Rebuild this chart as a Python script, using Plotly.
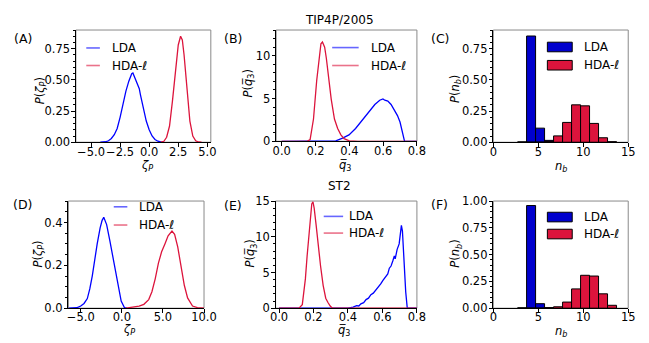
import plotly.graph_objects as go

# ---------------- data ----------------
# (A) TIP4P/2005, distribution of zeta_P
zeta_a_lda_x = [-4.2, -4.0, -3.75, -3.5, -3.25, -3.0, -2.75, -2.5, -2.25, -2.0, -1.75, -1.5, -1.4,
                -1.25, -1.0, -0.85, -0.75, -0.5, -0.25, 0.0, 0.25, 0.5, 0.75, 1.0, 1.25]
zeta_a_lda_y = [0.0, 0.001, 0.004, 0.012, 0.03, 0.06, 0.11, 0.20, 0.31, 0.41, 0.49, 0.55, 0.556,
                0.525, 0.47, 0.43, 0.38, 0.27, 0.17, 0.10, 0.05, 0.022, 0.008, 0.002, 0.0]
zeta_a_hda_x = [1.0, 1.25, 1.5, 1.75, 2.0, 2.25, 2.5, 2.7, 2.85, 3.0, 3.25, 3.5, 3.75, 4.0, 4.25, 4.5]
zeta_a_hda_y = [0.0, 0.006, 0.04, 0.13, 0.33, 0.58, 0.78, 0.85, 0.82, 0.70, 0.42, 0.17, 0.05, 0.012, 0.002, 0.0]

# (B) TIP4P/2005, distribution of q3
q3_b_lda_x = [0.0, 0.30, 0.32, 0.36, 0.398, 0.437, 0.475, 0.513, 0.551, 0.58, 0.599, 0.61, 0.628,
              0.647, 0.666, 0.685, 0.70, 0.71, 0.72, 0.727, 0.8]
q3_b_lda_y = [0.0, 0.0, 0.05, 0.37, 0.75, 1.5, 2.4, 3.4, 4.3, 4.8, 4.94, 4.8, 4.7,
              4.3, 3.7, 3.0, 2.25, 1.3, 0.56, 0.0, 0.0]
q3_b_hda_x = [0.0, 0.15, 0.168, 0.188, 0.207, 0.222, 0.232, 0.241, 0.248, 0.254, 0.264, 0.280,
              0.293, 0.312, 0.331, 0.35, 0.369, 0.40, 0.45, 0.8]
q3_b_hda_y = [0.0, 0.0, 0.19, 2.6, 7.1, 10.1, 11.4, 11.6, 11.2, 11.0, 9.7, 7.1,
              4.9, 2.6, 1.5, 0.75, 0.3, 0.05, 0.0, 0.0]

# (C) TIP4P/2005, distribution of n_b
nb_values = [3, 4, 5, 6, 7, 8, 9, 10, 11, 12, 13]
nb_c_lda = [0.002, 0.852, 0.113, 0.015, 0.0, 0.0, 0.0, 0.0, 0.0, 0.0, 0.0]
nb_c_hda = [0.0, 0.0, 0.0, 0.005, 0.051, 0.159, 0.300, 0.292, 0.151, 0.036, 0.004]

# (D) ST2, distribution of zeta_P
zeta_d_lda_x = [-6.5, -5.5, -5.0, -4.6, -4.2, -3.9, -3.6, -3.3, -3.0, -2.64, -2.4, -2.2, -1.85,
                -1.46, -1.2, -0.87, -0.47, -0.08, 0.31, 0.6]
zeta_d_lda_y = [0.0, 0.002, 0.01, 0.022, 0.045, 0.09, 0.15, 0.23, 0.30, 0.375, 0.41, 0.424, 0.39,
                0.315, 0.26, 0.196, 0.107, 0.033, 0.003, 0.0]
zeta_d_hda_x = [0.5, 1.3, 2.1, 2.68, 3.27, 3.66, 4.06, 4.45, 4.84, 5.24, 5.63, 6.1, 6.42,
                6.8, 7.2, 7.6, 8.0, 8.6, 9.2, 10.0]
zeta_d_hda_y = [0.0, 0.006, 0.01, 0.018, 0.04, 0.077, 0.137, 0.21, 0.263, 0.30, 0.338, 0.36, 0.345,
                0.286, 0.196, 0.107, 0.048, 0.01, 0.003, 0.0]

# (E) ST2, distribution of q3
q3_e_lda_x = [0.0, 0.40, 0.43, 0.45, 0.463, 0.475, 0.491, 0.505, 0.519, 0.533, 0.547, 0.56, 0.575,
              0.59, 0.603, 0.617, 0.631, 0.64, 0.65, 0.66, 0.669, 0.674, 0.678, 0.685, 0.697,
              0.704, 0.710, 0.716, 0.725, 0.735, 0.744, 0.8]
q3_e_lda_y = [0.0, 0.0, 0.15, 0.35, 0.31, 0.6, 0.77, 1.2, 1.4, 1.9, 2.1, 2.5, 2.8,
              3.4, 3.9, 4.4, 4.8, 5.6, 5.9, 6.6, 7.3, 6.9, 7.5, 8.2, 9.0,
              10.4, 11.6, 10.8, 6.4, 2.3, 0.0, 0.0]
q3_e_hda_x = [0.0, 0.116, 0.135, 0.153, 0.163, 0.172, 0.181, 0.19, 0.197, 0.204, 0.215, 0.228,
              0.241, 0.256, 0.271, 0.284, 0.297, 0.31, 0.8]
q3_e_hda_y = [0.0, 0.0, 0.5, 4.1, 7.3, 9.9, 12.6, 14.6, 14.9, 14.0, 11.7, 8.6,
              5.9, 3.2, 1.4, 0.8, 0.3, 0.0, 0.0]

# (F) ST2, distribution of n_b
nb_f_lda = [0.002, 0.958, 0.042, 0.004, 0.0, 0.0, 0.0, 0.0, 0.0, 0.0, 0.0]
nb_f_hda = [0.0, 0.0, 0.0, 0.004, 0.013, 0.057, 0.18, 0.307, 0.30, 0.134, 0.027]

LEGEND_NAMES = ["LDA", "HDA-<i>ℓ</i>"]

# ---------------- styling ----------------
W, H = 649, 343
FONT = "DejaVu Sans"
LDA_LINE = "#0000ff"
HDA_LINE = "#dc143c"
LDA_BAR = "#0000cd"
HDA_BAR = "#dc143c"
LDA_LEG = "rgba(0,0,255,0.6)"
HDA_LEG = "rgba(220,20,60,0.6)"


def px(x):
    return x / W


def py(y):
    return 1 - y / H


# axis boxes in pixels: (left, right, top, bottom)
boxes = {
    1: (72, 211, 24, 141),
    2: (278.3, 423.3, 24, 140),
    3: (502, 641, 24, 141),
    4: (64.3, 204, 202.3, 314),
    5: (277.7, 423.3, 202.3, 314),
    6: (502, 641, 202.3, 314),
}

fig = go.Figure()


def add_line(k, xs, ys, color):
    fig.add_trace(go.Scatter(x=xs, y=ys, mode="lines", line=dict(color=color, width=1.3),
                             xaxis=f"x{k}", yaxis=f"y{k}", showlegend=False))


def add_bars(k, xs, ys, color):
    fig.add_trace(go.Bar(x=xs, y=ys, width=1.0, offset=-0.3,
                         marker=dict(color=color, line=dict(color="black", width=1)),
                         xaxis=f"x{k}", yaxis=f"y{k}", showlegend=False))


add_line(1, zeta_a_lda_x, zeta_a_lda_y, LDA_LINE)
add_line(1, zeta_a_hda_x, zeta_a_hda_y, HDA_LINE)
add_line(2, q3_b_lda_x, q3_b_lda_y, LDA_LINE)
add_line(2, q3_b_hda_x, q3_b_hda_y, HDA_LINE)
add_bars(3, nb_values, nb_c_lda, LDA_BAR)
add_bars(3, nb_values, nb_c_hda, HDA_BAR)
add_line(4, zeta_d_lda_x, zeta_d_lda_y, LDA_LINE)
add_line(4, zeta_d_hda_x, zeta_d_hda_y, HDA_LINE)
add_line(5, q3_e_lda_x, q3_e_lda_y, LDA_LINE)
add_line(5, q3_e_hda_x, q3_e_hda_y, HDA_LINE)
add_bars(6, nb_values, nb_f_lda, LDA_BAR)
add_bars(6, nb_values, nb_f_hda, HDA_BAR)

# axis settings: xrange, xdtick, xfmt, yrange, ydtick, yfmt, yminor
axes = {
    1: ([-6.3, 5.3], 2.5, ".1f", [0, 0.9], 0.25, ".2f", 0.05),
    2: ([-0.033, 0.8], 0.2, ".1f", [0, 13], 5, "d", 1),
    3: ([0, 15], 5, "d", [0, 0.9], 0.25, ".2f", 0.05),
    4: ([-6.5, 10], 5, ".1f", [0, 0.5], 0.2, ".1f", 0.05),
    5: ([-0.02, 0.8], 0.2, ".1f", [0, 15], 5, "d", 1),
    6: ([0, 15], 5, "d", [0, 1.0], 0.25, ".2f", 0.05),
}

tickfont = dict(family=FONT, size=11.5, color="black")
layout_axes = {}
shapes = []
for k, (l, r, t, b) in boxes.items():
    xr, xd, xf, yr, yd, yf, ym = axes[k]
    sx = "" if k == 1 else str(k)
    layout_axes[f"xaxis{sx}"] = dict(
        domain=[px(l), px(r)], range=xr, dtick=xd, tick0=0, tickformat=xf,
        anchor=f"y{sx}", showgrid=False, zeroline=False, showline=True,
        linecolor="black", linewidth=1, ticks="outside", ticklen=3.5, tickwidth=1,
        tickcolor="black", tickfont=tickfont, tickangle=0, ticklabelstandoff=-5)
    layout_axes[f"yaxis{sx}"] = dict(
        domain=[py(b), py(t)], range=yr, dtick=yd, tick0=0, tickformat=yf,
        anchor=f"x{sx}", showgrid=False, zeroline=False, showline=True,
        linecolor="black", linewidth=1, ticks="outside", ticklen=3.5, tickwidth=1,
        tickcolor="black", tickfont=tickfont, ticklabelstandoff=-1,
        minor=dict(dtick=ym, tick0=0, ticks="outside", ticklen=2, tickwidth=0.8,
                   tickcolor="black", showgrid=False))
    # grey top/right frame
    shapes.append(dict(type="rect", xref=f"x{sx} domain", yref=f"y{sx} domain",
                       x0=0, x1=1, y0=0, y1=1, line=dict(color="#8a8a8a", width=1),
                       layer="below"))

annotations = []


def text(x, y, s, size=11.5, angle=0, xanchor="center", yanchor="middle"):
    annotations.append(dict(x=px(x), y=py(y), xref="paper", yref="paper", text=s,
                            showarrow=False, textangle=angle, xanchor=xanchor,
                            yanchor=yanchor, font=dict(family=FONT, size=size, color="black")))


# panel letters
for lab, x, y in [("(A)", 17, 33), ("(B)", 233.7, 33), ("(C)", 447, 33),
                  ("(D)", 17, 206), ("(E)", 233.7, 206.7), ("(F)", 447, 206)]:
    text(x, y, lab, size=12.5)

# row titles
text(344, 14, "TIP4P/2005", size=12)
text(343.3, 186.7, "ST2", size=12)

# axis titles
ZETA = "<i>ζ<sub>P</sub></i>"
Q3 = "<i>q\u0305</i><sub>3</sub>"
NB = "<i>n<sub>b</sub></i>"
text(145, 165, ZETA)
text(349.3, 165, Q3)
text(571.7, 166, NB)
text(126.7, 336.5, ZETA)
text(348.3, 337.5, Q3)
text(571.7, 338.5, NB)
text(35, 86.7, f"<i>P</i>({ZETA})", angle=-90)
text(250, 80, f"<i>P</i>({Q3})", angle=-90)
text(463, 85, f"<i>P</i>({NB})", angle=-90)
text(33, 258, f"<i>P</i>({ZETA})", angle=-90)
text(251.7, 256.7, f"<i>P</i>({Q3})", angle=-90)
text(463, 256.7, f"<i>P</i>({NB})", angle=-90)

# legends: (kind, key x0, key x1, text x, row y values)
legends = [
    ("line", 82.7, 96.7, 106.7, [42.7, 61]),
    ("line", 336, 363.3, 374, [42.3, 61]),
    ("patch", 557.7, 583.3, 593.3, [41.7, 60.7]),
    ("line", 111, 125, 135, [208.3, 227.3]),
    ("line", 327.3, 347.3, 351, [218.3, 235.7]),
    ("patch", 557.7, 583.3, 593.3, [219, 236.7]),
]
for kind, x0, x1, tx, rows in legends:
    for i, (yy, name) in enumerate(zip(rows, LEGEND_NAMES)):
        if kind == "line":
            col = LDA_LEG if i == 0 else HDA_LEG
            shapes.append(dict(type="line", xref="paper", yref="paper",
                               x0=px(x0), x1=px(x1), y0=py(yy), y1=py(yy),
                               line=dict(color=col, width=1.6)))
        else:
            col = LDA_BAR if i == 0 else HDA_BAR
            shapes.append(dict(type="rect", xref="paper", yref="paper",
                               x0=px(x0), x1=px(x1), y0=py(yy + 5), y1=py(yy - 5),
                               fillcolor=col, line=dict(color="black", width=1)))
        text(tx, yy, name, size=12, xanchor="left")

fig.update_layout(
    width=W, height=H, margin=dict(l=0, r=0, t=0, b=0),
    paper_bgcolor="white", plot_bgcolor="white", barmode="overlay",
    showlegend=False, shapes=shapes, annotations=annotations,
    font=dict(family=FONT, size=11.5, color="black"),
    **layout_axes,
)

fig.write_html("out.html")
